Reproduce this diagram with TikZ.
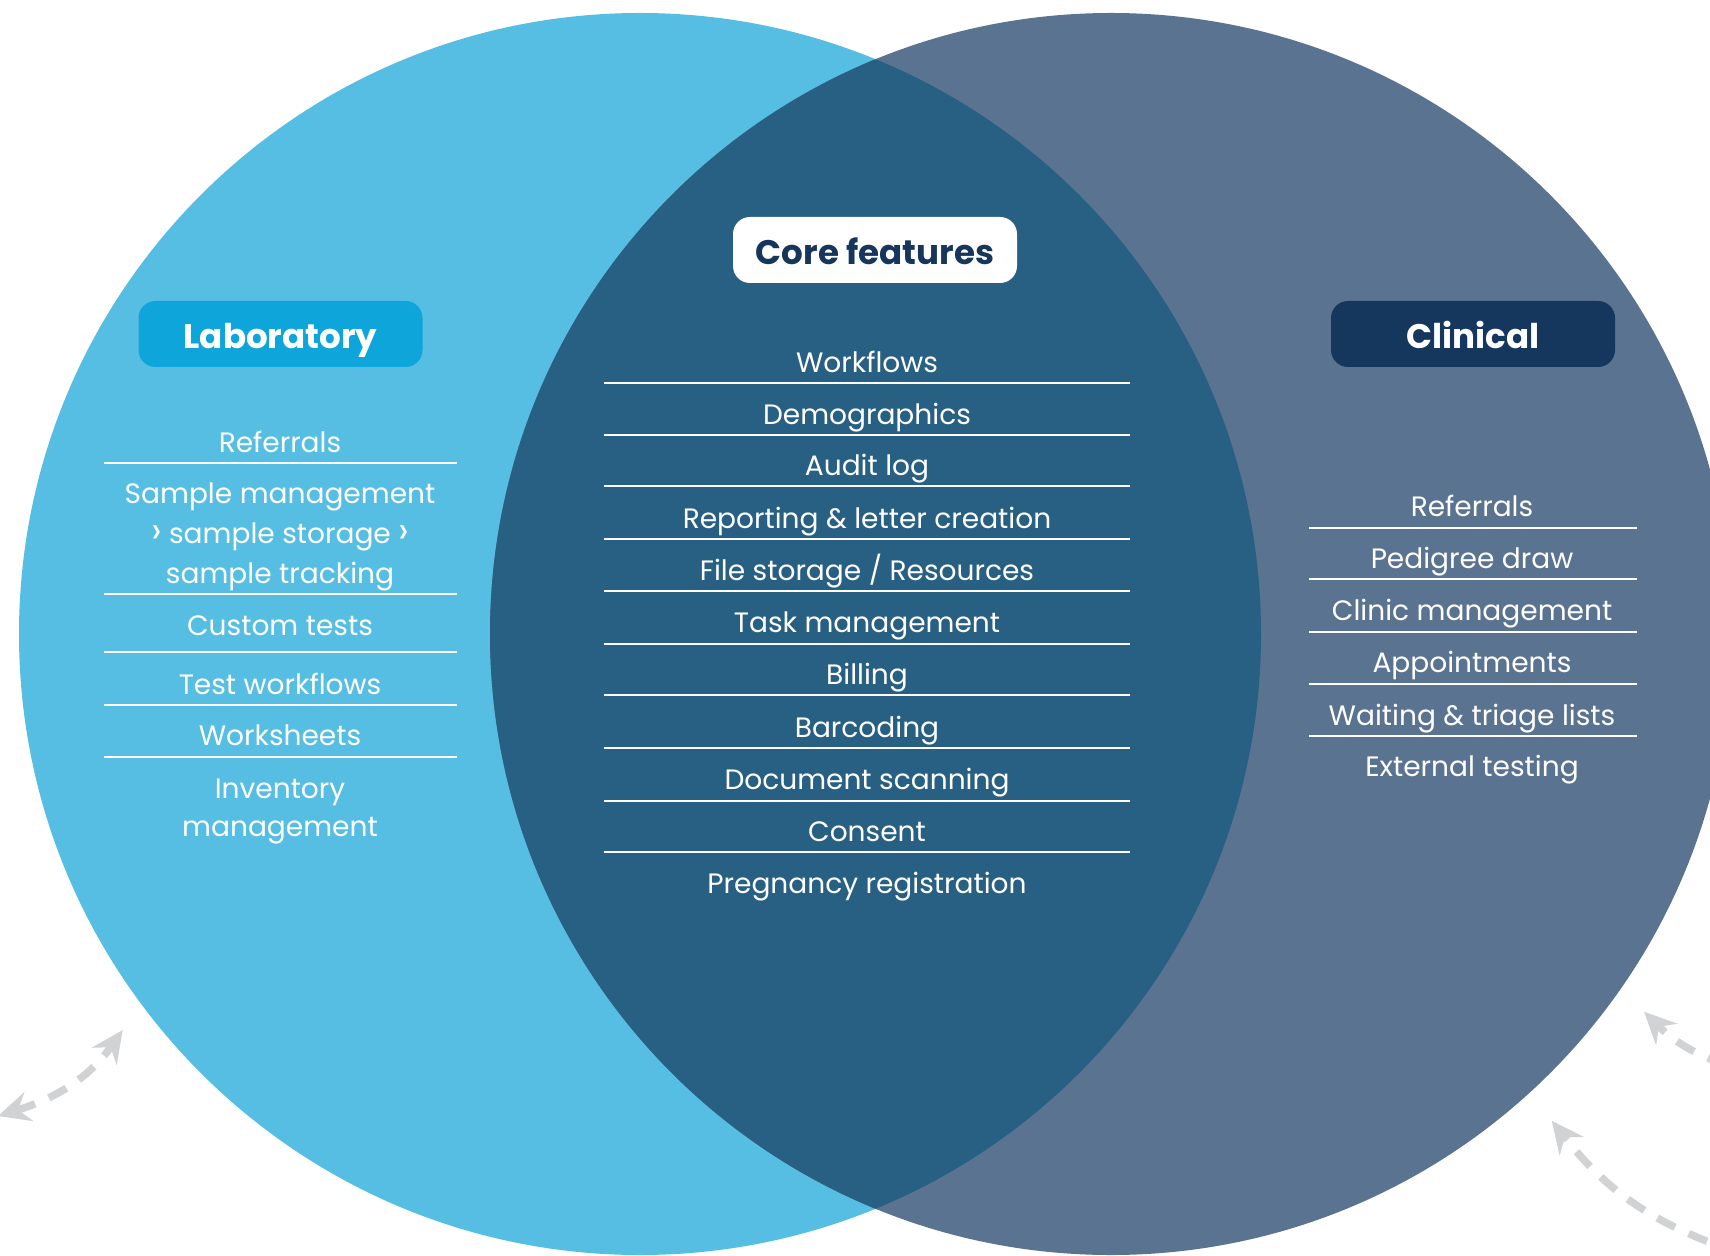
\documentclass[tikz,border=0pt]{standalone}
\usepackage{fontspec}
\setmainfont{Poppins}
\usepackage{graphicx}
\usepackage{xcolor}
\usepackage{tikz}
\usetikzlibrary{arrows.meta}
\definecolor{labCyan}{HTML}{56BEE3}
\definecolor{clinSlate}{HTML}{5A7390}
\definecolor{coreBlue}{HTML}{286084}
\definecolor{labBox}{HTML}{0EA5DA}
\definecolor{clinBox}{HTML}{15365D}
\definecolor{coreText}{HTML}{16365C}
\definecolor{arrowGray}{HTML}{D1D2D4}
\newcommand{\chev}{\scalebox{1.35}{›}}
\tikzset{
  headBox/.style={rounded corners=0.17cm, minimum width=2.84cm, minimum height=0.66cm,
    inner sep=0pt, text height=0.29cm, text depth=0pt, font=\fontsize{9.7}{12}\selectfont\bfseries},
  labHead/.style={headBox, fill=labBox, text=white},
  coreHead/.style={headBox, fill=white, text=coreText},
  clinHead/.style={headBox, fill=clinBox, text=white},
  listItem/.style={text=white, anchor=base, inner sep=0pt, font=\fontsize{7.98}{9.4}\selectfont},
  sepLine/.style={draw=white, line width=0.02cm},
  loopArrow/.style={draw=arrowGray, line width=0.075cm, dash pattern=on 0.2cm off 0.15cm,
    >={Stealth[length=0.32cm, width=0.30cm, inset=0.11cm]}}
}
\begin{document}
\begin{tikzpicture}
  \useasboundingbox (0,0) rectangle (17.10,12.55);
  \coordinate (L) at (6.40,6.21);
  \coordinate (R) at (11.11,6.21);

  % the two circles and their overlap
  \fill[labCyan] (L) circle (6.21);
  \fill[clinSlate] (R) circle (6.21);
  \begin{scope}
    \clip (L) circle (6.21);
    \fill[coreBlue] (R) circle (6.21);
  \end{scope}

  \node[labHead] (labTitle) at (2.805,9.21) {Laboratory};
  \node[coreHead] (coreTitle) at (8.75,10.05) {Core features};
  \node[clinHead] (clinTitle) at (14.73,9.21) {Clinical};

  % laboratory
  \node[listItem] (labRef) at (2.80,8.027) {Referrals};
  \node[listItem] (labSampA) at (2.80,7.517) {Sample management};
  \node[listItem] (labSampB) at (2.80,7.117) {\chev{} sample storage \chev};
  \node[listItem] (labSampC) at (2.80,6.717) {sample tracking};
  \node[listItem] (labCustom) at (2.80,6.20) {Custom tests};
  \node[listItem] (labTestWf) at (2.80,5.61) {Test workflows};
  \node[listItem] (labWork) at (2.80,5.10) {Worksheets};
  \node[listItem] (labInvA) at (2.80,4.567) {Inventory};
  \node[listItem] (labInvB) at (2.80,4.183) {management};

  \draw[sepLine] (1.04,7.923) -- (4.57,7.923);
  \draw[sepLine] (1.04,6.610) -- (4.57,6.610);
  \draw[sepLine] (1.04,6.027) -- (4.57,6.027);
  \draw[sepLine] (1.04,5.500) -- (4.57,5.500);
  \draw[sepLine] (1.04,4.983) -- (4.57,4.983);

  % core
  \node[listItem] (coreWf) at (8.67,8.828) {Workflows};
  \node[listItem] (coreDemo) at (8.67,8.304) {Demographics};
  \node[listItem] (coreAudit) at (8.67,7.792) {Audit log};
  \node[listItem] (coreReport) at (8.67,7.268) {Reporting \& letter creation};
  \node[listItem] (coreFiles) at (8.67,6.745) {File storage / Resources};
  \node[listItem] (coreTask) at (8.67,6.221) {Task management};
  \node[listItem] (coreBill) at (8.67,5.709) {Billing};
  \node[listItem] (coreBar) at (8.67,5.174) {Barcoding};
  \node[listItem] (coreScan) at (8.67,4.651) {Document scanning};
  \node[listItem] (coreConsent) at (8.67,4.138) {Consent};
  \node[listItem] (corePreg) at (8.67,3.614) {Pregnancy registration};

  \draw[sepLine] (6.04,8.722) -- (11.30,8.722);
  \draw[sepLine] (6.04,8.198) -- (11.30,8.198);
  \draw[sepLine] (6.04,7.686) -- (11.30,7.686);
  \draw[sepLine] (6.04,7.162) -- (11.30,7.162);
  \draw[sepLine] (6.04,6.639) -- (11.30,6.639);
  \draw[sepLine] (6.04,6.115) -- (11.30,6.115);
  \draw[sepLine] (6.04,5.603) -- (11.30,5.603);
  \draw[sepLine] (6.04,5.068) -- (11.30,5.068);
  \draw[sepLine] (6.04,4.545) -- (11.30,4.545);
  \draw[sepLine] (6.04,4.032) -- (11.30,4.032);

  % clinical
  \node[listItem] (clinRef) at (14.72,7.390) {Referrals};
  \node[listItem] (clinPed) at (14.72,6.867) {Pedigree draw};
  \node[listItem] (clinClinic) at (14.72,6.350) {Clinic management};
  \node[listItem] (clinAppt) at (14.72,5.823) {Appointments};
  \node[listItem] (clinWait) at (14.72,5.300) {Waiting \& triage lists};
  \node[listItem] (clinExt) at (14.72,4.783) {External testing};

  \draw[sepLine] (13.09,7.273) -- (16.37,7.273);
  \draw[sepLine] (13.09,6.757) -- (16.37,6.757);
  \draw[sepLine] (13.09,6.233) -- (16.37,6.233);
  \draw[sepLine] (13.09,5.713) -- (16.37,5.713);
  \draw[sepLine] (13.09,5.187) -- (16.37,5.187);

  % dashed arrows round the edge
  \coordinate (lfEnd) at (-0.02,1.39);
  \coordinate (lfTip) at (1.227,2.25);
  \coordinate (rtUpTail) at (17.60,1.80);
  \coordinate (rtUpTip) at (16.44,2.433);
  \coordinate (rtLoTail) at (17.40,0.02);
  \coordinate (rtLoTip) at (15.517,1.343);

  \draw[loopArrow, <->] (lfEnd) to[out=17, in=235] (lfTip);
  \draw[loopArrow, ->] (rtUpTail) to[out=165, in=-45] (rtUpTip);
  \draw[loopArrow, ->] (rtLoTail) to[out=162, in=-52] (rtLoTip);
\end{tikzpicture}
\end{document}
